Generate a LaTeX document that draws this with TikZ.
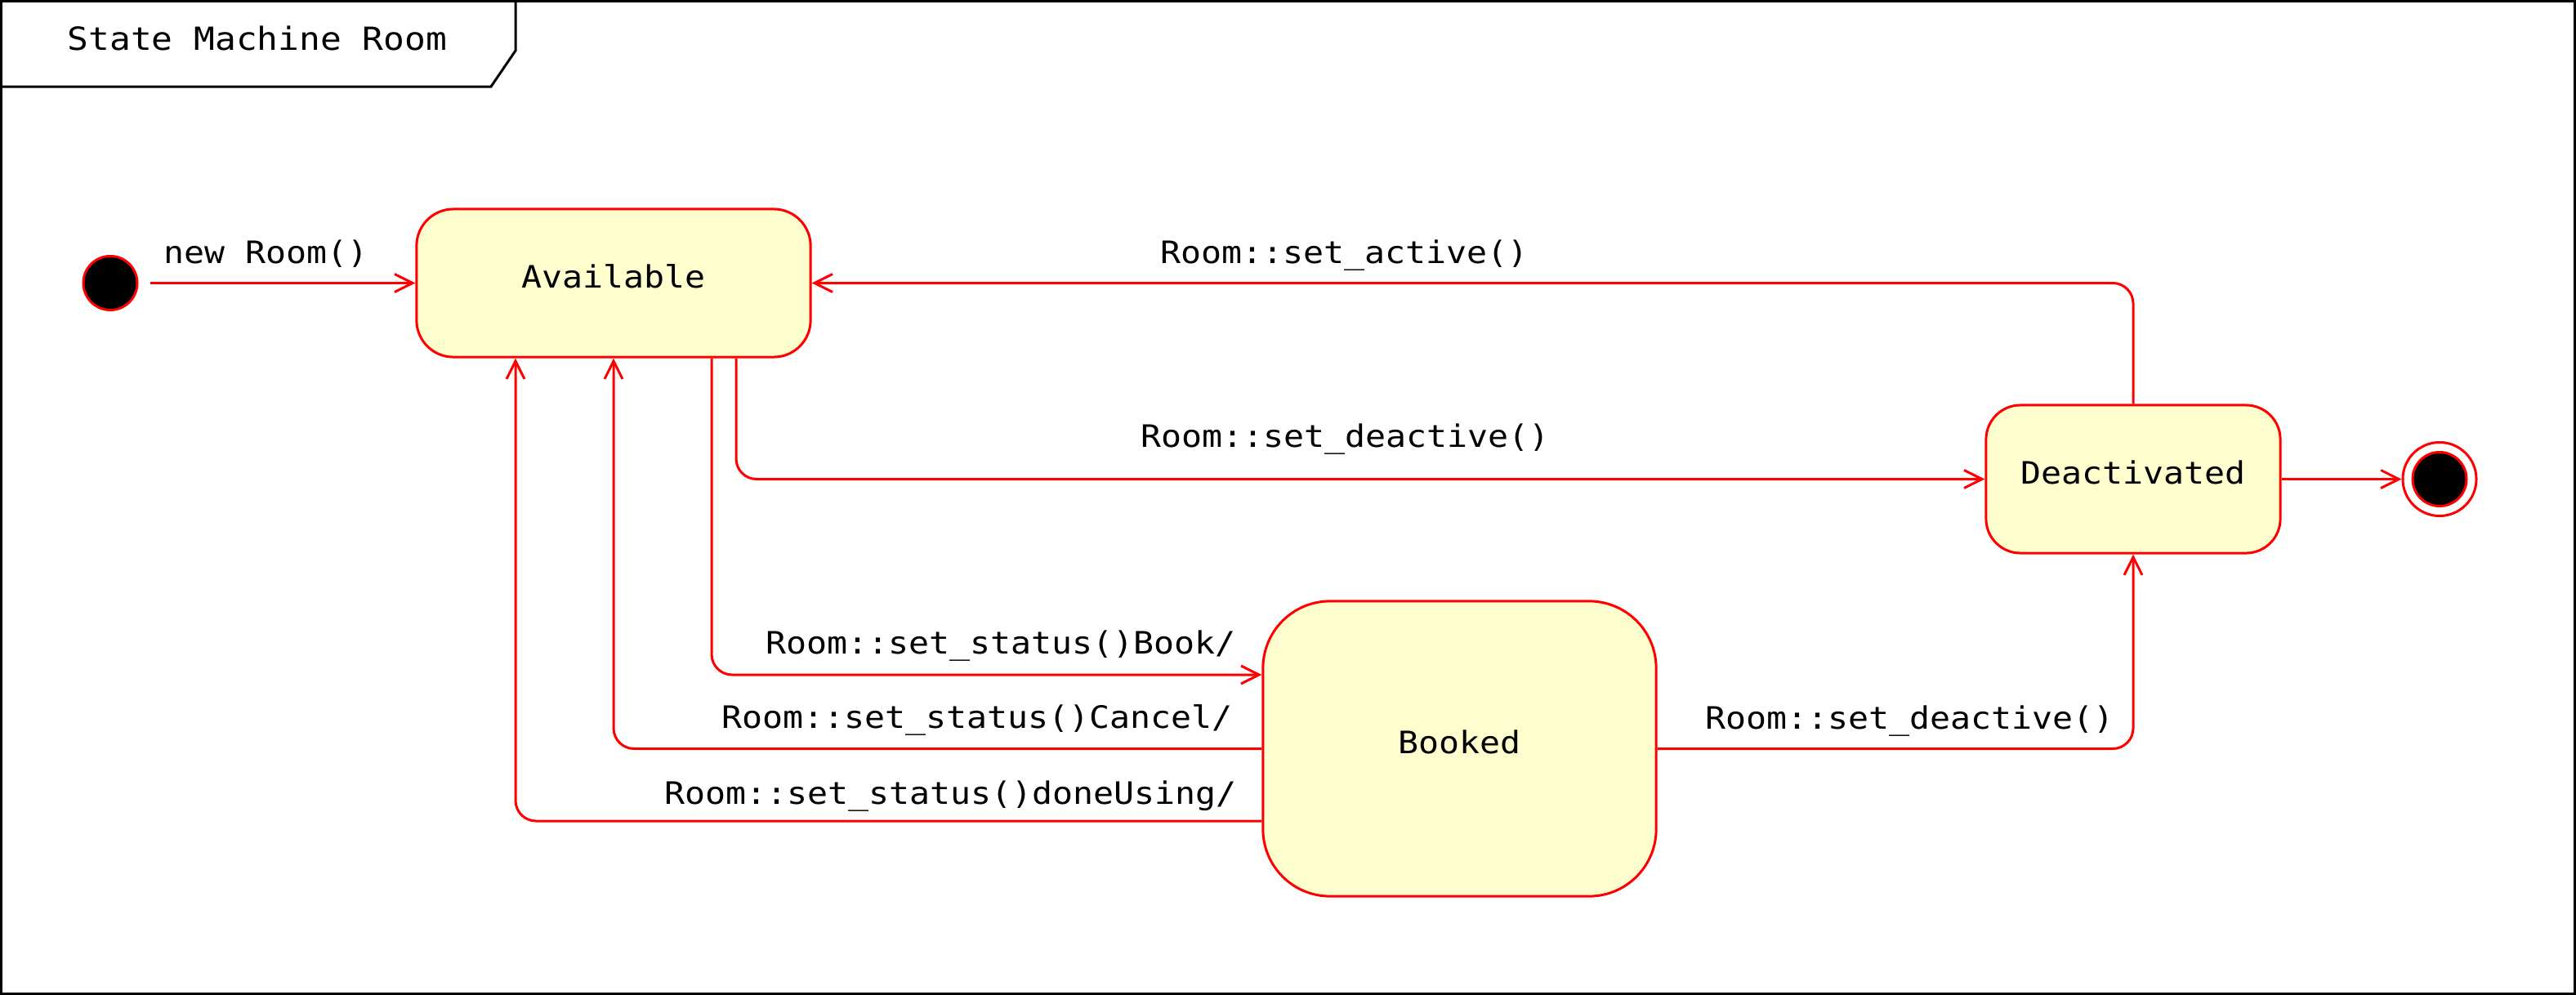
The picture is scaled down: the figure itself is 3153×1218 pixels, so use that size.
\documentclass[tikz,border=0pt]{standalone}
\usepackage{fontspec}
\setmainfont{DejaVu Sans Mono}[FakeStretch=1.1]
\usetikzlibrary{arrows.meta}
\definecolor{stfill}{HTML}{FEFECE}
\definecolor{stred}{HTML}{FF0000}
\begin{document}
\begin{tikzpicture}[x=0.01cm,y=-0.01cm,
  every node/.style={font=\fontsize{10.74pt}{13pt}\selectfont},
  statebox/.style={draw=stred, fill=stfill, line width=0.03cm, inner sep=0pt, text height=0.25cm, text depth=0.14cm},
  conn/.style={draw=stred, line width=0.03cm, rounded corners=0.25cm, -{Straight Barb[length=0.22cm,width=0.22cm]}},
  lbl/.style={anchor=base west, inner sep=0pt},
  dotnode/.style={circle, draw=stred, fill=black, line width=0.03cm, minimum size=0.66cm, inner sep=0pt}]

\useasboundingbox (0,0) rectangle (3153,1218);
\draw[line width=0.03cm] (1.5,1.5) rectangle (3151.5,1216.5);
\draw[line width=0.03cm] (1.5,106) -- (601,106) -- (631,62) -- (631,1.5);
\node[lbl, font=\fontsize{11.08pt}{13pt}\selectfont] (title) at (82,61) {State Machine Room};

\node[statebox, minimum width=4.82cm, minimum height=1.81cm, rounded corners=0.45cm] (avail) at (751,346.5) {Available};
\node[statebox, minimum width=3.6cm, minimum height=1.81cm, rounded corners=0.42cm] (deact) at (2611,586.5) {Deactivated};
\node[statebox, minimum width=4.81cm, minimum height=3.61cm, rounded corners=0.82cm] (booked) at (1786.5,916.5) {Booked};

\node[dotnode] (init) at (135,346.5) {};
\node[circle, draw=stred, fill=white, line width=0.03cm, minimum size=0.9cm, inner sep=0pt] (final) at (2986,586.5) {};
\node[dotnode] (finalin) at (final.center) {};

\coordinate (xbook) at (871,0);
\coordinate (ybook) at (0,826);
\coordinate (xcancel) at (751,0);
\coordinate (xdone) at (631,0);
\coordinate (ydone) at (0,1005);
\coordinate (xdeac) at (901,0);

\draw[conn, shorten <=0.14cm] (init) -- (avail);
\draw[conn] (xbook |- avail.south) |- (booked.west |- ybook);
\draw[conn] (booked.west) -| (xcancel |- avail.south);
\draw[conn] (booked.west |- ydone) -| (xdone |- avail.south);
\draw[conn] (xdeac |- avail.south) |- (deact.west);
\draw[conn] (deact.north) |- (avail.east);
\draw[conn] (booked.east) -| (deact.south);
\draw[conn] (deact) -- (final);

\node[lbl] (l0) at (200,322) {new Room()};
\node[lbl] (l1) at (1420,322) {Room::set\_active()};
\node[lbl] (l2) at (1396,547) {Room::set\_deactive()};
\node[lbl] (l3) at (937,800) {Room::set\_status()Book/};
\node[lbl] (l4) at (883,891) {Room::set\_status()Cancel/};
\node[lbl] (l5) at (813,984) {Room::set\_status()doneUsing/};
\node[lbl] (l6) at (2087,892) {Room::set\_deactive()};
\end{tikzpicture}
\end{document}
